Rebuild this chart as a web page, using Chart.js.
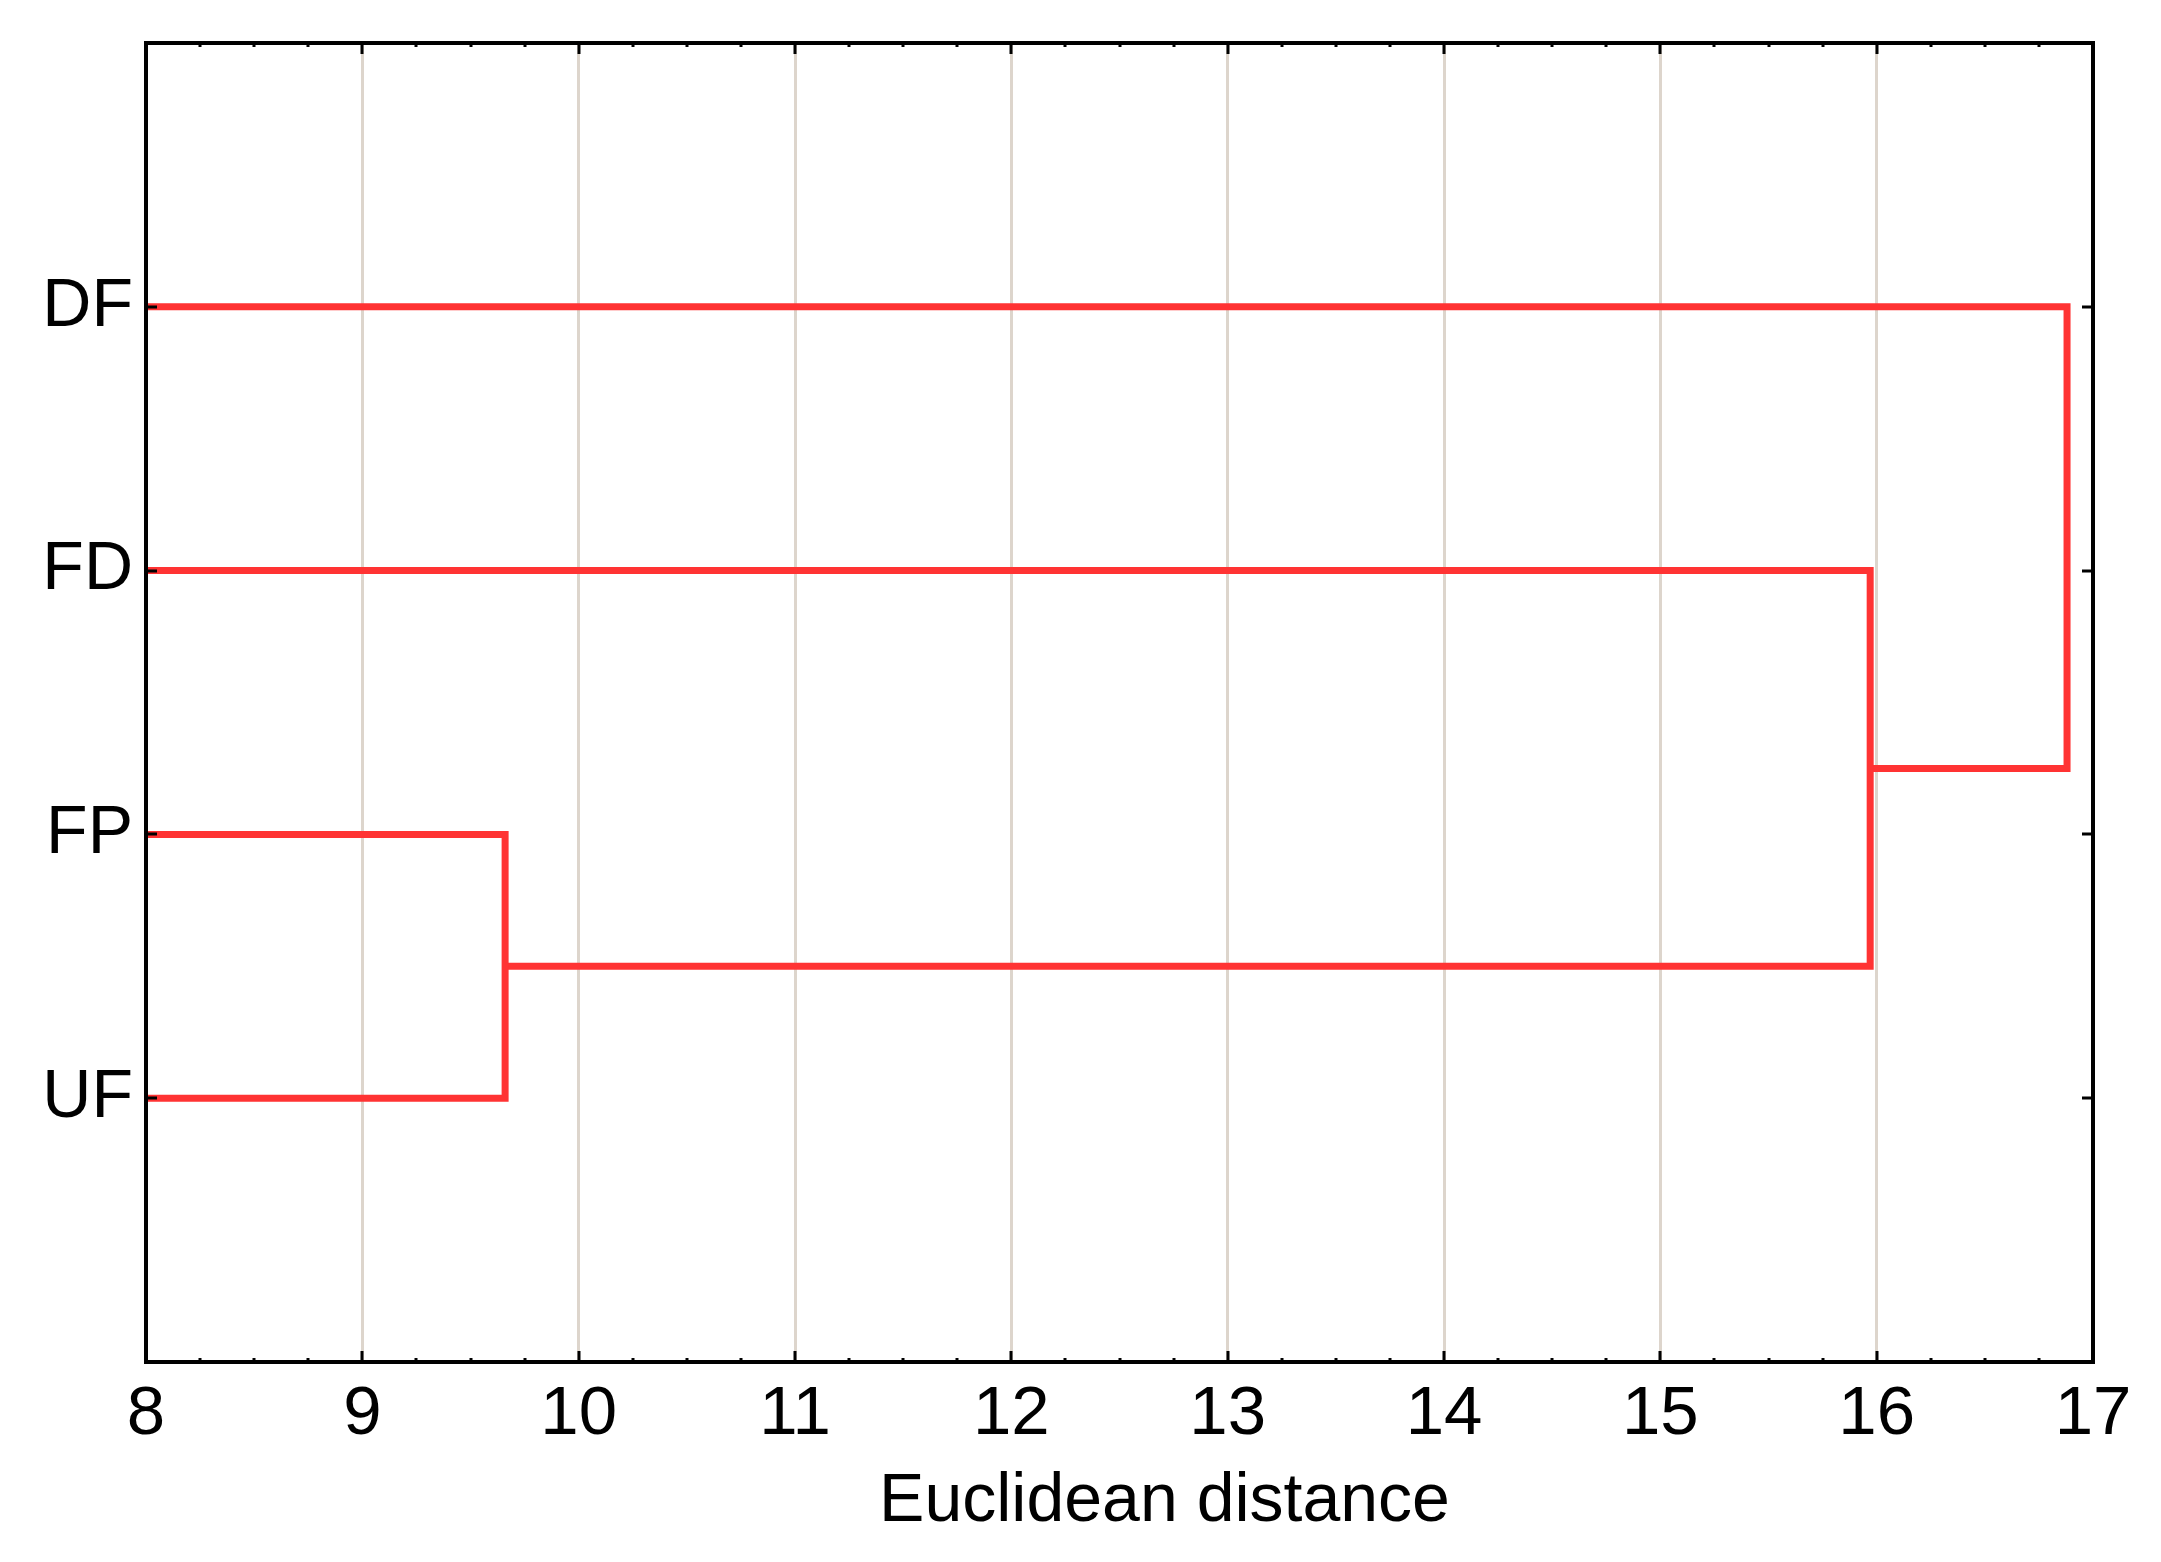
<!DOCTYPE html>
<html>
<head>
<meta charset="utf-8">
<script src="https://cdn.jsdelivr.net/npm/chart.js@4.4.1/dist/chart.umd.min.js"></script>
<style>
  html, body { margin: 0; padding: 0; background: #ffffff; }
  canvas { display: block; }
</style>
</head>
<body>
<canvas id="c" width="2161" height="1562"></canvas>
<script>
// ---- data ----
const leaves = ['DF', 'FD', 'FP', 'UF'];
const mergeLeft = ['FP', 'FD', 'DF'];
const mergeRight = ['UF', 'FP+UF', 'FD+FP+UF'];
const mergeHeights = [9.66, 15.97, 16.88];
const xTicks = [8, 9, 10, 11, 12, 13, 14, 15, 16, 17];
const xTitle = 'Euclidean distance';

// ---- build dendrogram segments ----
const xMin = xTicks[0], xMax = xTicks[xTicks.length - 1];
const nodes = {};
leaves.forEach((name, i) => { nodes[name] = { x: xMin, y: i + 1 }; });
const datasets = [];
mergeHeights.forEach((d, i) => {
  const a = nodes[mergeLeft[i]], b = nodes[mergeRight[i]];
  datasets.push({
    data: [{ x: a.x, y: a.y }, { x: d, y: a.y }, { x: d, y: b.y }, { x: b.x, y: b.y }],
    showLine: true,
    borderColor: 'rgb(255,51,51)',
    borderWidth: 7,
    borderJoinStyle: 'miter',
    borderCapStyle: 'butt',
    pointRadius: 0,
    tension: 0,
    fill: false
  });
  nodes[mergeLeft[i] + '+' + mergeRight[i]] = { x: d, y: (a.y + b.y) / 2 };
});

const FONT = "'Liberation Sans', Arial, sans-serif";

const framePlugin = {
  id: 'frame',
  afterDatasetsDraw(chart) {
    const ctx = chart.ctx, ca = chart.chartArea;
    const xs = chart.scales.x, ys = chart.scales.y;
    ctx.save();
    ctx.strokeStyle = '#000';
    // inward ticks on x (bottom & top): major every 1, minor every 0.25
    ctx.lineWidth = 3;
    for (let v = xMin; v <= xMax + 1e-9; v += 0.25) {
      const px = Math.round(xs.getPixelForValue(v));
      const major = Math.abs(v - Math.round(v)) < 1e-9;
      const len = major ? 11 : 4;
      ctx.beginPath();
      ctx.moveTo(px, ca.bottom); ctx.lineTo(px, ca.bottom - len);
      ctx.moveTo(px, ca.top); ctx.lineTo(px, ca.top + len);
      ctx.stroke();
    }
    // inward ticks on y (left & right) at each leaf
    leaves.forEach((_, i) => {
      const py = Math.round(ys.getPixelForValue(i + 1));
      ctx.beginPath();
      ctx.moveTo(ca.left, py); ctx.lineTo(ca.left + 11, py);
      ctx.moveTo(ca.right, py); ctx.lineTo(ca.right - 11, py);
      ctx.stroke();
    });
    // frame
    ctx.lineWidth = 4;
    ctx.strokeRect(ca.left, ca.top, ca.right - ca.left, ca.bottom - ca.top);
    // axis title
    ctx.fillStyle = '#000';
    ctx.font = '68px ' + FONT;
    ctx.textAlign = 'center';
    ctx.textBaseline = 'alphabetic';
    ctx.fillText(xTitle, (ca.left + ca.right) / 2 + 45, ca.bottom + 159);
    ctx.restore();
  }
};

new Chart(document.getElementById('c'), {
  type: 'scatter',
  data: { datasets },
  options: {
    responsive: false,
    animation: false,
    devicePixelRatio: 1,
    layout: { padding: { left: 0, top: 43, right: 68, bottom: 0 } },
    plugins: { legend: { display: false }, tooltip: { enabled: false } },
    scales: {
      x: {
        type: 'linear',
        min: xMin, max: xMax,
        afterBuildTicks(scale) { scale.ticks = xTicks.map(v => ({ value: v })); },
        afterFit(scale) { scale.height = 200; scale.paddingLeft = 0; scale.paddingRight = 0; },
        border: { display: false },
        grid: {
          drawTicks: false,
          lineWidth: 3,
          color: (c) => (c.tick && (c.tick.value === xMin || c.tick.value === xMax)) ? 'rgba(0,0,0,0)' : '#ddd5cc'
        },
        ticks: { color: '#000', font: { family: FONT, size: 69 }, padding: 12, maxRotation: 0, autoSkip: false },
        title: { display: false }
      },
      y: {
        type: 'linear',
        reverse: true,
        min: 0, max: leaves.length + 1,
        afterBuildTicks(scale) { scale.ticks = leaves.map((_, i) => ({ value: i + 1 })); },
        afterFit(scale) { scale.width = 146; scale.paddingTop = 0; scale.paddingBottom = 0; },
        border: { display: false },
        grid: { display: false, drawTicks: false },
        ticks: {
          color: '#000', font: { family: FONT, size: 68 }, padding: 13, autoSkip: false,
          callback: (v) => leaves[v - 1] || ''
        }
      }
    }
  },
  plugins: [framePlugin]
});
</script>
</body>
</html>
